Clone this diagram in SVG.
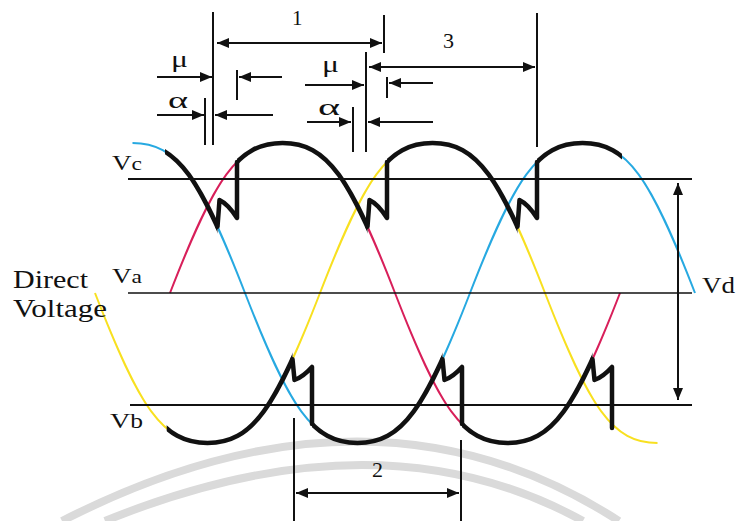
<svg xmlns="http://www.w3.org/2000/svg" width="739" height="521" viewBox="0 0 739 521">
<style>
.w{fill:none;stroke-width:2}
.blue{stroke:#27a9e1}
.red{stroke:#d81f5a}
.yel{stroke:#f8e020}
.env{fill:none;stroke:#111;stroke-width:4.5;stroke-linejoin:round;stroke-linecap:round}
.ln{stroke:#111;stroke-width:2;fill:none}
.thin{stroke:#111;stroke-width:1.3;fill:none}
.arr{marker-end:url(#ah)}
.dbl{marker-start:url(#ah);marker-end:url(#ah)}
text{font-family:"Liberation Serif","Times New Roman",serif;fill:#111}
.wm{fill:none;stroke:#dadada;stroke-width:8}
</style>
<defs>
<marker id="ah" viewBox="0 0 12 10" refX="12" refY="5" markerWidth="12" markerHeight="10" markerUnits="userSpaceOnUse" orient="auto-start-reverse"><path d="M0,0 L12,5 L0,10 z" fill="#111"/></marker>
<path id="wb" d="M132.5,143 C177.36,143 200.14,177.3 245,293 C289.86,408.7 312.64,443 357.5,443 C402.36,443 425.14,408.7 470,293 C514.86,177.3 537.64,143 582.5,143 C627.36,143 650.14,177.3 695,293"/>
<path id="wr" d="M170,293 C214.86,177.3 237.64,143 282.5,143 C327.36,143 350.14,177.3 395,293 C439.86,408.7 462.64,443 507.5,443 C552.36,443 575.14,408.7 620,293"/>
<path id="wy" d="M95,293 C139.86,408.7 162.64,443 207.5,443 C252.36,443 275.14,408.7 320,293 C364.86,177.3 387.64,143 432.5,143 C477.36,143 500.14,177.3 545,293 C589.86,408.7 612.64,443 657.5,443"/>
<clipPath id="t1"><rect x="165" y="0" width="52.5" height="521"/></clipPath>
<clipPath id="t2"><rect x="237" y="0" width="130.5" height="521"/></clipPath>
<clipPath id="t3"><rect x="387" y="0" width="130.5" height="521"/></clipPath>
<clipPath id="t4"><rect x="537" y="0" width="85" height="521"/></clipPath>
<clipPath id="b1"><rect x="166.7" y="0" width="125.8" height="521"/></clipPath>
<clipPath id="b2"><rect x="312" y="0" width="130.5" height="521"/></clipPath>
<clipPath id="b3"><rect x="462" y="0" width="130.5" height="521"/></clipPath>
</defs>

<g id="watermark">
<path class="wm" d="M62,521 Q373,362 619,521"/>
<path class="wm" d="M105,521 Q380,409 583,521"/>
</g>

<g id="phase-waves">
<use href="#wb" class="w blue"/>
<use href="#wr" class="w red"/>
<use href="#wy" class="w yel"/>
</g>

<g id="levels">
<path class="ln" d="M128,179 H692"/>
<path class="thin" d="M128,293 H692"/>
<path class="ln" d="M130,405 H692"/>
</g>

<g id="envelope">
<use href="#wb" class="env" clip-path="url(#t1)"/>
<use href="#wr" class="env" clip-path="url(#t2)"/>
<use href="#wy" class="env" clip-path="url(#t3)"/>
<use href="#wb" class="env" clip-path="url(#t4)"/>
<use href="#wy" class="env" clip-path="url(#b1)"/>
<use href="#wb" class="env" clip-path="url(#b2)"/>
<use href="#wr" class="env" clip-path="url(#b3)"/>
<path class="env" d="M217.5,226.7 L219.5,200 Q228,204 237,218 L237,162"/>
<path class="env" d="M367.5,226.7 L369.5,200 Q378,204 387,218 L387,162"/>
<path class="env" d="M517.5,226.7 L519.5,200 Q528,204 537,218 L537,162"/>
<path class="env" d="M292.5,359.3 L294.5,380 Q303,377 312,367 L312,424"/>
<path class="env" d="M442.5,359.3 L444.5,380 Q453,377 462,367 L462,424"/>
<path class="env" d="M592.5,359.3 L594.5,380 Q603,377 612,367 L612,428"/>
</g>

<g id="connectors">
<path class="ln" d="M213,12 V145"/>
<path class="ln" d="M205,98 V145"/>
<path class="ln" d="M237,70 V100"/>
<path class="ln" d="M384,15 V53"/>
<path class="ln" d="M366,52 V152"/>
<path class="ln" d="M353,107 V152"/>
<path class="ln" d="M387,77 V98"/>
<path class="ln" d="M537,13 V147"/>
<path class="ln" d="M294,418 V521"/>
<path class="ln" d="M461,440 V521"/>
<path class="ln arr" d="M157,77 H212"/>
<path class="ln arr" d="M157,115 H204"/>
<path class="ln arr" d="M282,77 H239"/>
<path class="ln arr" d="M273,115 H215"/>
<path class="ln dbl" d="M217,43 H382"/>
<path class="ln arr" d="M305,85 H364"/>
<path class="ln arr" d="M307,122 H351"/>
<path class="ln arr" d="M433,83 H389"/>
<path class="ln arr" d="M433,122 H368"/>
<path class="ln dbl" d="M369,67 H535"/>
<path class="ln dbl" d="M296,493 H459"/>
<path class="ln dbl" d="M678,183 V400"/>
</g>

<g id="labels">
<text x="112" y="170" font-size="22" textLength="30" lengthAdjust="spacingAndGlyphs">V<tspan font-size="19">c</tspan></text>
<text x="112" y="283" font-size="22" textLength="30" lengthAdjust="spacingAndGlyphs">V<tspan font-size="19">a</tspan></text>
<text x="110" y="428" font-size="22" textLength="33" lengthAdjust="spacingAndGlyphs">V<tspan font-size="20">b</tspan></text>
<text x="702" y="293" font-size="24" textLength="33" lengthAdjust="spacingAndGlyphs">Vd</text>
<text x="13" y="288" font-size="25" textLength="75" lengthAdjust="spacingAndGlyphs">Direct</text>
<text x="13" y="317" font-size="25" textLength="94" lengthAdjust="spacingAndGlyphs">Voltage</text>
<text x="171" y="67" font-size="24" textLength="17" lengthAdjust="spacingAndGlyphs">μ</text>
<text x="168" y="108" font-size="24" textLength="20" lengthAdjust="spacingAndGlyphs">α</text>
<text x="322" y="72" font-size="24" textLength="17" lengthAdjust="spacingAndGlyphs">μ</text>
<text x="318" y="115" font-size="24" textLength="22" lengthAdjust="spacingAndGlyphs">α</text>
<text x="292" y="25" font-size="21">1</text>
<text x="443" y="48" font-size="22">3</text>
<text x="372" y="477" font-size="22">2</text>
</g>
</svg>
